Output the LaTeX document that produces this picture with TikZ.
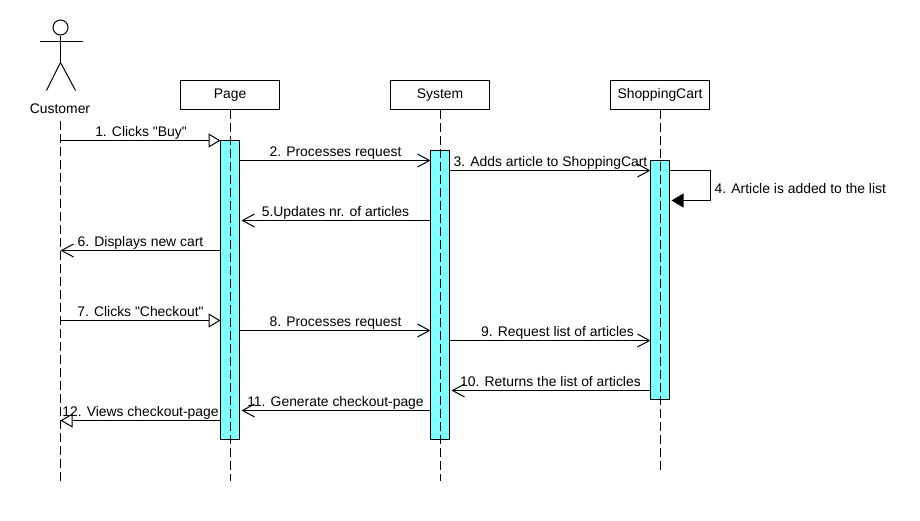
\documentclass[tikz,border=0pt]{standalone}
\usepackage{fontspec}
\setmainfont{Liberation Sans}[Ligatures=TeXOff]
\usetikzlibrary{arrows.meta}

\definecolor{barcyan}{HTML}{80FFFF}

\tikzset{
  obj/.style={draw,line width=1pt,fill=white,minimum width=99pt,minimum height=29pt,inner sep=0pt,text height=10pt,text depth=3pt,font=\fontsize{13.9}{16}\selectfont},
  bar/.style={draw,line width=1pt,fill=barcyan,minimum width=19pt,inner sep=0pt},
  life/.style={line width=1pt,dash pattern=on 9pt off 4pt},
  msg/.style={line width=1pt,-{Straight Barb[length=12pt,width=13pt]}},
  msghollow/.style={line width=1pt,-{Triangle[open,fill=white,length=12pt,width=14pt]}},
  msgself/.style={line width=1pt,-{Triangle[length=12pt,width=14pt]}},
  lbl/.style={inner sep=0pt,anchor=base,font=\fontsize{13.9}{16}\selectfont},
}

\begin{document}
\begin{tikzpicture}[x=1pt,y=-1pt]
\useasboundingbox (-0.5,-0.5) rectangle (919.5,519.5);

% actor
\node[circle,draw,line width=1pt,minimum size=15pt,inner sep=0pt] (head) at (60,27) {};
\coordinate (neck) at (60,41);
\coordinate (hip) at (60,62);
\coordinate (armL) at (39,41);
\coordinate (armR) at (82,41);
\coordinate (legL) at (46,90);
\coordinate (legR) at (75,90);
\draw[line width=1pt] (head)--(hip);
\draw[line width=1pt] (armL)--(armR);
\draw[line width=1pt] (legL)--(hip)--(legR);
\node[lbl] (customer) at (59.5,113) {Customer};

% objects
\node[obj] (page) at (229.5,94.5) {Page};
\node[obj] (system) at (439.5,94.5) {System};
\node[obj] (cart) at (659.5,94.5) {ShoppingCart};

% activation bars
\node[bar,minimum height=299pt] (barP) at (229.5,289.5) {};
\node[bar,minimum height=289pt] (barS) at (439.5,294.5) {};
\node[bar,minimum height=239pt] (barC) at (659.5,279.5) {};

% lifelines
\coordinate (custTop) at (60,120);
\coordinate (custEnd) at (60,480);
\coordinate (pageEnd) at (230,480);
\coordinate (sysEnd) at (440,480);
\coordinate (cartEnd) at (660,469);
\draw[life] (custTop)--(custEnd);
\draw[life] (page.south -| pageEnd)--(pageEnd);
\draw[life] (system.south -| sysEnd)--(sysEnd);
\draw[life] (cart.south -| cartEnd)--(cartEnd);

% message ends
\coordinate (c1) at (60,140);
\coordinate (p1) at (220,140);
\coordinate (p2) at (239,160);
\coordinate (s2) at (430,160);
\coordinate (s3) at (449,170);
\coordinate (k3) at (650,170);
\coordinate (k4a) at (669,170);
\coordinate (r4a) at (710,170);
\coordinate (r4b) at (710,200);
\coordinate (k4b) at (671,200);
\coordinate (s5) at (430,220);
\coordinate (p5) at (241,220);
\coordinate (p6) at (220,250);
\coordinate (c6) at (60,250);
\coordinate (c7) at (60,320);
\coordinate (p7) at (220,320);
\coordinate (p8) at (239,330);
\coordinate (s8) at (430,330);
\coordinate (s9) at (449,340);
\coordinate (k9) at (650,340);
\coordinate (k10) at (650,390);
\coordinate (s10) at (451,390);
\coordinate (s11) at (430,410);
\coordinate (p11) at (241,410);
\coordinate (p12) at (220,420);
\coordinate (c12) at (60,420);

\draw[msghollow] (c1)--(p1);
\draw[msg] (p2)--(s2);
\draw[msg] (s3)--(k3);
\draw[msgself] (k4a)--(r4a)--(r4b)--(k4b);
\draw[msg] (s5)--(p5);
\draw[msg] (p6)--(c6);
\draw[msghollow] (c7)--(p7);
\draw[msg] (p8)--(s8);
\draw[msg] (s9)--(k9);
\draw[msg] (k10)--(s10);
\draw[msg] (s11)--(p11);
\draw[msghollow] (p12)--(c12);

% labels
\node[lbl] (t1) at (140.5,136) {1. Clicks "Buy"};
\node[lbl] (t2) at (335,156) {2. Processes request};
\node[lbl] (t3) at (550,166) {3. Adds article to ShoppingCart};
\node[lbl,anchor=base west] (t4) at (714,193) {4. Article is added to the list};
\node[lbl] (t5) at (335,216) {5.Updates nr. of articles};
\node[lbl] (t6) at (140,246) {6. Displays new cart};
\node[lbl] (t7) at (140,316) {7. Clicks "Checkout"};
\node[lbl] (t8) at (335,326) {8. Processes request};
\node[lbl] (t9) at (557,336) {9. Request list of articles};
\node[lbl] (t10) at (550,386) {10. Returns the list of articles};
\node[lbl] (t11) at (335,406) {11. Generate checkout-page};
\node[lbl] (t12) at (140,416) {12. Views checkout-page};
\end{tikzpicture}
\end{document}
